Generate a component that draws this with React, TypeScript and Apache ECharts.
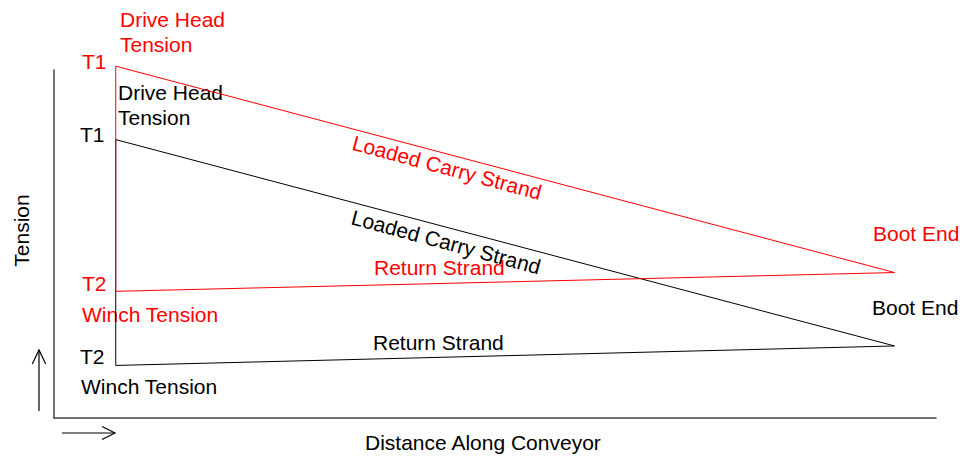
import React, { useEffect, useRef } from "react";
import * as echarts from "echarts";

// Station order along each loop: Drive head (T1) -> Boot End -> Winch (T2) -> back to T1
const stations = ["T1", "Boot End", "T2", "T1"];
const distanceAlong = [7, 95.3, 7, 7];
const redTension = [101.1, 41.8, 36.4, 101.1];
const blackTension = [80.0, 20.7, 15.1, 80.0];

const FONT = "'Liberation Sans', Arial, Helvetica, sans-serif";
const RED = "#ff0000";
const BLACK = "#000000";

function txt(text: string, x: number, y: number, fill: string, extra: any = {}) {
  return {
    type: "text",
    x,
    y,
    rotation: extra.rotation || 0,
    style: {
      text,
      fill,
      font: `21px ${FONT}`,
      textAlign: extra.align || "left",
      textVerticalAlign: "middle",
    },
    silent: true,
  };
}

export default function App() {
  const ref = useRef<HTMLDivElement>(null);
  useEffect(() => {
    if (!ref.current) return;
    const chart = echarts.init(ref.current, undefined, { renderer: "svg" });
    const mk = (vals: number[]) => distanceAlong.map((d, i) => [d, vals[i]]);
    const deg = Math.PI / 180;
    chart.setOption({
      animation: false,
      backgroundColor: "#ffffff",
      grid: { left: 54, top: 70, right: 24, bottom: 39 },
      xAxis: {
        type: "value",
        min: 0,
        max: 100,
        axisLine: { show: true, lineStyle: { color: "#444", width: 1.5 } },
        axisTick: { show: false },
        axisLabel: { show: false },
        splitLine: { show: false },
      },
      yAxis: {
        type: "value",
        min: 0,
        max: 100,
        axisLine: { show: true, lineStyle: { color: "#444", width: 1.5 } },
        axisTick: { show: false },
        axisLabel: { show: false },
        splitLine: { show: false },
      },
      series: [
        {
          name: "black",
          type: "line",
          data: mk(blackTension),
          symbol: "none",
          clip: false,
          lineStyle: { color: BLACK, width: 1 },
        },
        {
          name: "red",
          type: "line",
          data: mk(redTension),
          symbol: "none",
          clip: false,
          lineStyle: { color: RED, width: 1 },
        },
      ],
      graphic: [
        txt("Drive Head", 120, 19, RED),
        txt("Tension", 120, 44, RED),
        txt(stations[0], 82, 61, RED),
        txt("Drive Head", 118, 92, BLACK),
        txt("Tension", 118, 117, BLACK),
        txt(stations[0], 80, 134, BLACK),
        txt(stations[2], 82, 283, RED),
        txt("Winch Tension", 82, 314, RED),
        txt(stations[2], 80, 356, BLACK),
        txt("Winch Tension", 81, 386, BLACK),
        txt(stations[1], 873, 233.5, RED),
        txt(stations[1], 872, 307.5, BLACK),
        txt("Return Strand", 374, 267.5, RED),
        txt("Return Strand", 373, 342, BLACK),
        txt("Loaded Carry Strand", 447, 167.5, RED, { align: "center", rotation: -15 * deg }),
        txt("Loaded Carry Strand", 446, 242, BLACK, { align: "center", rotation: -15 * deg }),
        txt("Distance Along Conveyor", 365, 442.5, BLACK),
        txt("Tension", 21, 230.5, BLACK, { align: "center", rotation: 90 * deg }),
        {
          type: "line",
          shape: { x1: 39, y1: 411, x2: 39, y2: 350 },
          style: { stroke: BLACK, lineWidth: 1.2 },
          silent: true,
        },
        {
          type: "polyline",
          shape: { points: [[32.3, 364], [39, 350], [45.7, 364]] },
          style: { stroke: BLACK, lineWidth: 1.2, fill: "none" },
          silent: true,
        },
        {
          type: "line",
          shape: { x1: 62, y1: 433, x2: 115, y2: 433 },
          style: { stroke: BLACK, lineWidth: 1.2 },
          silent: true,
        },
        {
          type: "polyline",
          shape: { points: [[102, 426.5], [115, 433], [102, 439.5]] },
          style: { stroke: BLACK, lineWidth: 1.2, fill: "none" },
          silent: true,
        },
      ],
    });
    return () => chart.dispose();
  }, []);
  return (
    <div
      ref={ref}
      style={{ position: "absolute", left: 0, top: 0, width: 960, height: 457 }}
    />
  );
}
